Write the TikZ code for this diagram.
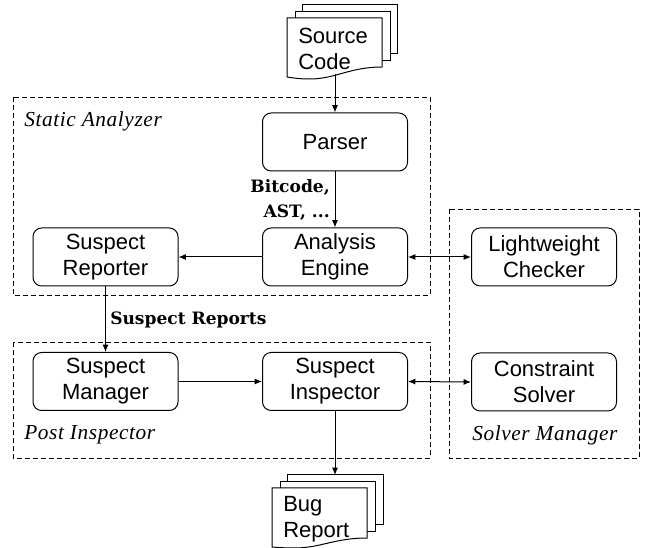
\documentclass[tikz,border=0pt]{standalone}
\usepackage{fontspec}
\setmainfont{Liberation Sans}
\newfontfamily\slabbold[BoldFont=DejaVu Serif Bold]{DejaVu Serif}
\newfontfamily\labelit[LetterSpace=2.8]{Liberation Serif}
\usetikzlibrary{arrows.meta}
\tikzset{
  x=0.75pt,y=-0.75pt,
  procbox/.style={draw,line width=0.75pt,rounded corners=6.5pt,minimum width=108.75pt,minimum height=43.5pt,align=center,font=\fontsize{16.5}{19.5}\selectfont,inner sep=0pt},
  zone/.style={draw,line width=0.7pt,dash pattern=on 3.6pt off 2.4pt},
  zonelabel/.style={font=\labelit\itshape\fontsize{16}{18}\selectfont,inner sep=0pt},
  flowlabel/.style={font=\slabbold\bfseries\fontsize{12.8}{18.8}\selectfont,inner sep=0pt,align=right},
  flow/.style={line width=0.75pt,-{Latex[length=5.5pt,width=4.5pt]}},
  dflow/.style={line width=0.75pt,{Latex[length=5.5pt,width=4.5pt]}-{Latex[length=5.5pt,width=4.5pt]}},
  page/.style={draw,fill=white,line width=0.75pt},
  doclabel/.style={font=\fontsize{16.5}{19.5}\selectfont,align=left,inner sep=0pt},
}
\begin{document}
\begin{tikzpicture}
\useasboundingbox (0,0) rectangle (646,548);
\draw[zone] (13,97) rectangle (430,295);
\draw[zone] (13,342) rectangle (430,458);
\draw[zone] (449,209) rectangle (639,458);
\node[zonelabel,anchor=west] (sa) at (24,121) {Static Analyzer};
\node[zonelabel,anchor=west] (pi) at (24,435) {Post Inspector};
\node[zonelabel,anchor=west] (sm) at (472,435) {Solver Manager};
\node[procbox] (parser) at (335,142) {Parser};
\node[procbox] (engine) at (335,257) {Analysis\\Engine};
\node[procbox] (reporter) at (105.5,257) {Suspect\\Reporter};
\node[procbox] (checker) at (544,257) {Lightweight\\Checker};
\node[procbox] (manager) at (105.5,381.5) {Suspect\\Manager};
\node[procbox] (inspector) at (335,381.5) {Suspect\\Inspector};
\node[procbox] (solver) at (544,382) {Constraint\\Solver};
% source doc
\draw[page] (302,5) -- (397,5) -- (397,54) -- (302,54) -- cycle;
\draw[page] (295,12) -- (390,12) -- (390,61) -- (295,61) -- cycle;
\draw[page] (287,18) -- (382,18) -- (382,67) .. controls (350,67) and (335,79) .. (310,79) .. controls (300,79) and (293,78) .. (287,77) -- cycle;
\node[doclabel,anchor=west] (src) at (298,49) {Source\\Code};
\coordinate (srcb) at (335,74);
% bug doc
\draw[page] (287,475) -- (383,475) -- (383,525) -- (287,525) -- cycle;
\draw[page] (280,482) -- (375,482) -- (375,531) -- (280,531) -- cycle;
\draw[page] (272,488) -- (367,488) -- (367,538) .. controls (335,538) and (320,548) .. (295,548) .. controls (285,548) and (278,547.5) .. (272,547) -- cycle;
\node[doclabel,anchor=west] (bug) at (283,519.5) {Bug\\Report};
\coordinate (bugt) at (335,475);
\draw[flow] (srcb) -- (parser.north);
\draw[flow] (parser.south) -- (engine.north);
\draw[flow] (engine.west) -- (reporter.east);
\draw[dflow] (engine.east) -- (checker.west);
\draw[flow] (reporter.south) -- (manager.north);
\draw[flow] (manager.east) -- (inspector.west);
\draw[dflow] (inspector.east) -- (solver.west);
\draw[flow] (inspector.south) -- (bugt);
\node[flowlabel,anchor=east] (bc) at (330,199.5) {Bitcode,\\AST, ...};
\node[flowlabel,anchor=west] (sr) at (110,320) {Suspect Reports};
\end{tikzpicture}
\end{document}
